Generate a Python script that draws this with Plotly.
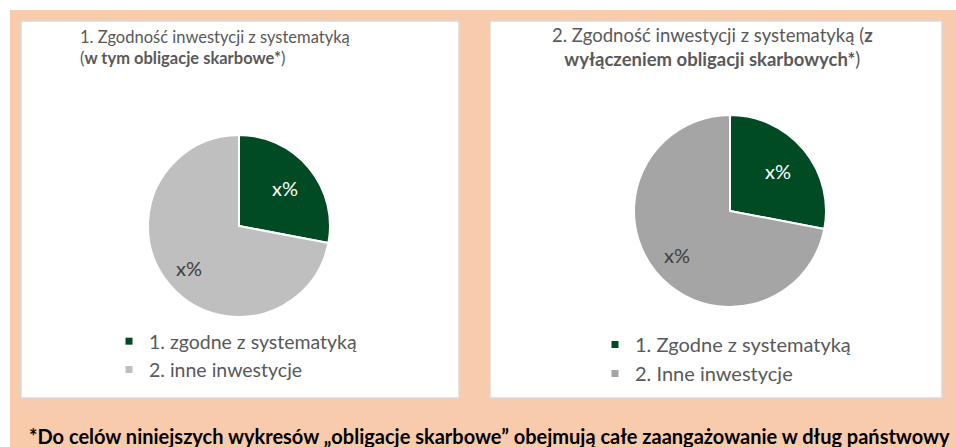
import math
import plotly.graph_objects as go

W, H = 956, 447

# ---- data ----
categories_1 = ["1. zgodne z systematyką", "2. inne inwestycje"]
categories_2 = ["1. Zgodne z systematyką", "2. Inne inwestycje"]
values_1 = [28, 72]
values_2 = [28, 72]
slice_labels = ["x%", "x%"]

title_1 = "1. Zgodność inwestycji z systematyką<br>(<b>w tym obligacje skarbowe*</b>)"
title_2 = "2. Zgodność inwestycji z systematyką (<b>z</b><br><b>wyłączeniem obligacji skarbowych*</b>)"
footnote = "<b>*Do celów niniejszych wykresów „obligacje skarbowe” obejmują całe zaangażowanie w dług państwowy</b>"

GREEN = "#004B23"
GRAY1 = "#BFBFBF"
GRAY2 = "#A5A5A5"
PEACH = "#F8CBAD"
TXT = "#595959"
FONT = "Lato"
LABEL_COLORS = ["white", "#404040"]
LABEL_RADIUS = [0.65, 0.72]  # fraction of pie radius for label placement


def px(x):
    return x / W


def py(y):
    return 1 - y / H


# pie boxes in pixels (left, right, top, bottom)
box_1 = (148, 330, 135, 317)
box_2 = (634, 826, 115, 307)

fig = go.Figure()


def add_pie(labels, values, colors, box):
    l, r, t, b = box
    fig.add_trace(go.Pie(
        labels=labels, values=values, textinfo="none",
        sort=False, direction="clockwise", rotation=0,
        marker=dict(colors=colors, line=dict(color="white", width=2)),
        domain=dict(x=[px(l), px(r)], y=[py(b), py(t)]),
        showlegend=False, hoverinfo="label+percent",
    ))
    # slice labels placed along each slice's mid-angle
    cx, cy, rad = (l + r) / 2, (t + b) / 2, (r - l) / 2
    total = sum(values)
    cum = 0
    anns = []
    for i, v in enumerate(values):
        mid = (cum + v / 2) / total * 2 * math.pi
        cum += v
        fr = LABEL_RADIUS[i]
        x = cx + fr * rad * math.sin(mid)
        y = cy - fr * rad * math.cos(mid)
        anns.append(dict(text=slice_labels[i], x=px(x), y=py(y), xref="paper", yref="paper",
                         xanchor="center", yanchor="middle", showarrow=False,
                         font=dict(family=FONT, size=20, color=LABEL_COLORS[i])))
    return anns


label_anns = add_pie(categories_1, values_1, [GREEN, GRAY1], box_1)
label_anns += add_pie(categories_2, values_2, [GREEN, GRAY2], box_2)

# legend entries (square markers)
for name, col in zip(categories_1, [GREEN, GRAY1]):
    fig.add_trace(go.Scatter(x=[None], y=[None], mode="markers", name=name,
                             marker=dict(symbol="square", size=7, color=col),
                             legend="legend", showlegend=True))
for name, col in zip(categories_2, [GREEN, GRAY2]):
    fig.add_trace(go.Scatter(x=[None], y=[None], mode="markers", name=name,
                             marker=dict(symbol="square", size=7, color=col),
                             legend="legend2", showlegend=True))

shapes = [
    dict(type="rect", xref="paper", yref="paper", x0=px(10), x1=1, y0=0, y1=py(10),
         fillcolor=PEACH, line=dict(width=0), layer="below"),
    dict(type="rect", xref="paper", yref="paper", x0=px(21), x1=px(459), y0=py(398), y1=py(21),
         fillcolor="white", line=dict(color="#D9D9D9", width=1.5), layer="below"),
    dict(type="rect", xref="paper", yref="paper", x0=px(490), x1=px(942), y0=py(398), y1=py(21),
         fillcolor="white", line=dict(color="#D9D9D9", width=1.5), layer="below"),
]

annotations = [
    dict(text=title_1, x=px(78), y=py(47), xref="paper", yref="paper", xanchor="left", yanchor="middle",
         align="left", showarrow=False, font=dict(family=FONT, size=16.5, color=TXT)),
    dict(text=title_2, x=px(712), y=py(46.5), xref="paper", yref="paper", xanchor="center", yanchor="middle",
         align="center", showarrow=False, font=dict(family=FONT, size=18.5, color=TXT)),
    dict(text=footnote, x=px(27), y=py(436), xref="paper", yref="paper", xanchor="left", yanchor="middle",
         align="left", showarrow=False, font=dict(family=FONT, size=20, color="black")),
] + label_anns

legend_common = dict(bgcolor="rgba(0,0,0,0)", borderwidth=0, xanchor="left", yanchor="top",
                     itemsizing="trace")

fig.update_layout(
    width=W, height=H, margin=dict(l=0, r=0, t=0, b=0),
    paper_bgcolor="white", plot_bgcolor="rgba(0,0,0,0)",
    xaxis=dict(visible=False), yaxis=dict(visible=False),
    shapes=shapes, annotations=annotations,
    legend=dict(x=px(109), y=py(322), font=dict(family=FONT, size=19.5, color=TXT), **legend_common),
    legend2=dict(x=px(595), y=py(325), font=dict(family=FONT, size=20, color=TXT), **legend_common),
    showlegend=True,
)

fig.write_html("out.html")
